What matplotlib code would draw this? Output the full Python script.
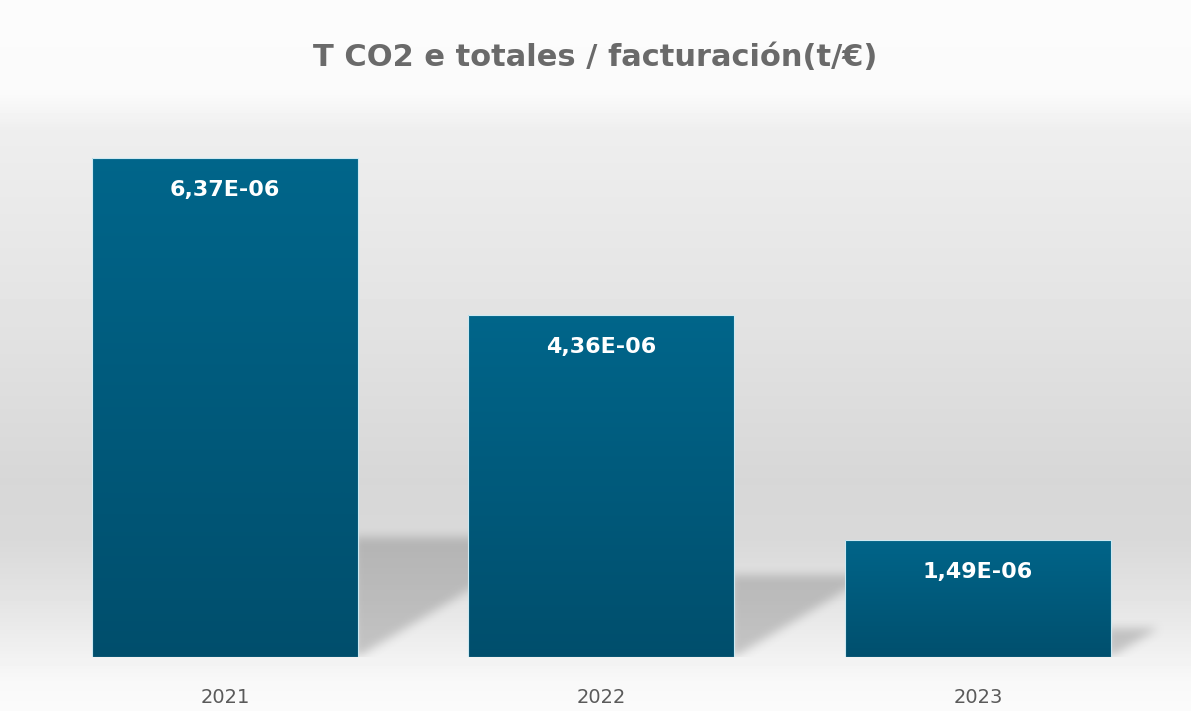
import numpy as np
import matplotlib
matplotlib.use('Agg')
import matplotlib.pyplot as plt
from matplotlib.colors import LinearSegmentedColormap

years = ['2021', '2022', '2023']
values = [6.37e-06, 4.36e-06, 1.49e-06]
value_labels = ['6,37E-06', '4,36E-06', '1,49E-06']
title = 'T CO2 e totales / facturación(t/€)'

W, H = 1191, 711
fig = plt.figure(figsize=(W / 100, H / 100), dpi=100)

# fondo degradado (blanco arriba, gris en el centro, claro abajo)
bg = fig.add_axes([0, 0, 1, 1], zorder=-2)
rows = np.arange(H)
stops_y = [0, 95, 130, 300, 480, 540, 600, 650, 680, 711]
stops_v = [252, 250, 238, 228, 215, 217, 228, 240, 248, 251]
col = np.interp(rows, stops_y, stops_v) / 255
bg.imshow(col[:, None], cmap='gray', vmin=0, vmax=1, aspect='auto', extent=[0, 1, 0, 1])
bg.axis('off')

ax = fig.add_axes([0, 1 - 657 / H, 1, 557 / H])
ax.set_facecolor('none')
x = np.arange(len(years))
width = 0.7065
xmin, xmax = -0.5976, 2.5662
ymax = 7.11e-06


def blur(a, r):
    k = np.ones(2 * r + 1) / (2 * r + 1)
    a = np.apply_along_axis(lambda m: np.convolve(m, k, mode='same'), 0, a)
    a = np.apply_along_axis(lambda m: np.convolve(m, k, mode='same'), 1, a)
    return a


# sombras de las barras
nx, ny = W, 557
px_per_x = nx / (xmax - xmin)
px_per_y = ny / ymax
gx = np.arange(nx)[None, :]
gy = np.arange(ny)[:, None]
mask = np.zeros((ny, nx))
for xi, v in zip(x, values):
    xr = (xi + width / 2 - xmin) * px_per_x
    hs = 0.24 * v * px_per_y
    inside = (gx >= xr - 4) & (gy <= hs) & (gy >= (gx - xr) * 0.6)
    mask[inside] = 1
mask = blur(blur(mask, 5), 5)
shadow = np.zeros((ny, nx, 4))
shadow[..., :3] = 0.43
shadow[..., 3] = mask * 0.34
ax.imshow(shadow, extent=[xmin, xmax, 0, ymax], origin='lower', aspect='auto', zorder=1)

# barras con degradado
bar_cmap = LinearSegmentedColormap.from_list('barra', ['#004e6c', '#00668b'])
grad = np.linspace(0, 1, 512)[:, None]
bars = ax.bar(x, values, width=width, color='none', edgecolor='#cde9f2', linewidth=0.8, zorder=3)
for b in bars:
    im = ax.imshow(grad, cmap=bar_cmap, origin='lower', aspect='auto', zorder=2,
                   interpolation='bilinear',
                   extent=[b.get_x() - 0.01, b.get_x() + b.get_width() + 0.01,
                           -0.1e-06, b.get_height() + 0.1e-06])
    im.set_clip_path(b)

for b, lab in zip(bars, value_labels):
    ax.annotate(lab, (b.get_x() + b.get_width() / 2, b.get_height()), xytext=(0, -23),
                textcoords='offset points', ha='center', va='center', color='white',
                fontsize=16, fontweight='bold', zorder=4)

ax.set_xlim(xmin, xmax)
ax.set_ylim(0, ymax)
ax.set_xticks(x, years)
ax.set_yticks([])
ax.tick_params(axis='x', length=0, pad=22, labelsize=14, labelcolor='#5a5a5a')
for s in ax.spines.values():
    s.set_visible(False)

fig.text(0.5, 1 - 58 / H, title, ha='center', va='center', fontsize=22,
         fontweight='bold', color='#6a6a6a')

fig.savefig('out.png', dpi=100)
